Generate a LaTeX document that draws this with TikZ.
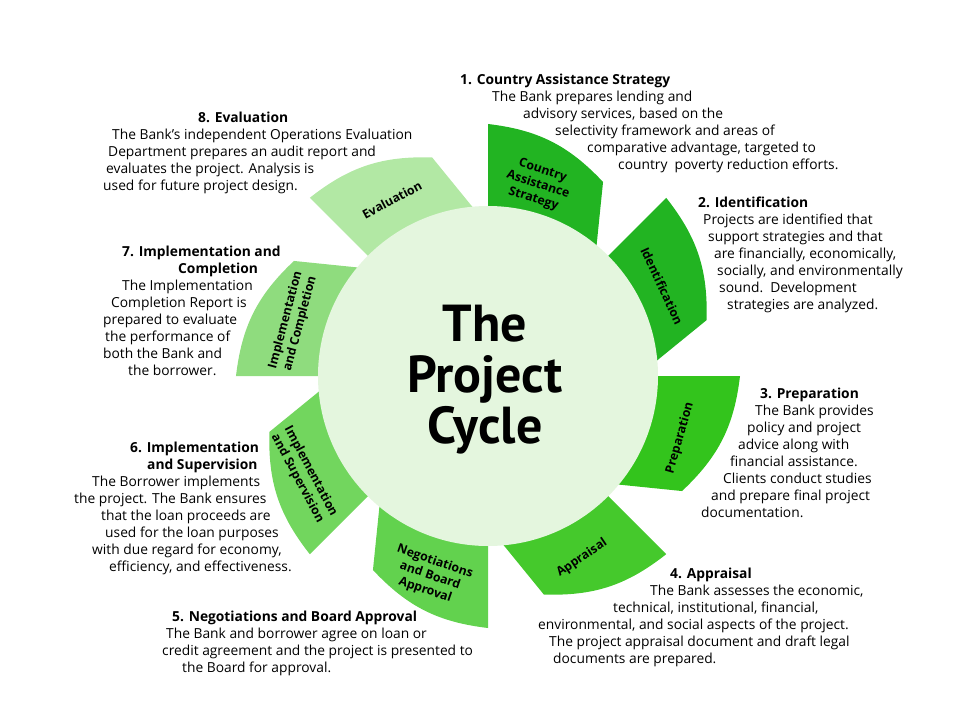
\documentclass[tikz,border=0pt]{standalone}
\usepackage{fontspec}
\setmainfont{Open Sans}
\newfontfamily\titlefont{PT Sans}
\usetikzlibrary{positioning}

\definecolor{circfill}{HTML}{E4F6DE}
\definecolor{bladeA}{HTML}{22B422}
\definecolor{bladeB}{HTML}{33C41C}
\definecolor{bladeC}{HTML}{45C92C}
\definecolor{bladeD}{HTML}{62D24E}
\definecolor{bladeE}{HTML}{72D65E}
\definecolor{bladeF}{HTML}{8FDC7E}
\definecolor{bladeG}{HTML}{B2E8A4}

\tikzset{
  desc/.style={align=left, anchor=north west, inner sep=0pt,
    font=\fontsize{13.8}{17}\selectfont},
  bladetext/.style={align=center, inner sep=0pt,
    font=\bfseries\fontsize{12.3}{15}\selectfont},
}

\begin{document}
\begin{tikzpicture}[x=1pt,y=1pt]
\useasboundingbox (-488,376) rectangle (472,-344);

% the eight blades, then the hub on top
\foreach \a/\col in {135/bladeG,90/bladeA,45/bladeA,0/bladeB,
                     -45/bladeC,-90/bladeD,-135/bladeE,180/bladeF}
  \fill[\col] (\a:150) -- (\a:252) to[bend left=20]
    ([shift={(\a+4:74)}]\a-45:170) -- (\a-45:150) -- cycle;
\fill[circfill] (0,0) circle (170);

\node[font=\titlefont\bfseries\fontsize{52}{51}\selectfont, align=center]
  (title) at (-3,-4) {The\\Project\\Cycle};

% blade labels
\node foreach \name/\px/\py/\rot/\txt in {
    cas/50/191/-18/{Country\\Assistance\\Strategy},
    ident/174/90/-65/{Identification},
    prep/192/-62/74/{Preparation},
    appr/94/-182/34/{Appraisal},
    nego/-58/-200/-19/{Negotiations\\and Board\\Approval},
    impsup/-184/-99/-62/{Implementation\\and Supervision},
    impcomp/-195/54/75/{Implementation\\and Completion},
    eval/-96/176/28/{Evaluation}}
  [bladetext, rotate=\rot] (\name) at (\px,\py) {\txt};

% descriptions
\node[desc] (casdesc) at (-28,302) {\textbf{1. Country Assistance Strategy}\\
  \hspace*{32pt}The Bank prepares lending and\\
  \hspace*{63pt}advisory services, based on the\\
  \hspace*{95pt}selectivity framework and areas of\\
  \hspace*{127pt}comparative advantage, targeted to\\
  \hspace*{158pt}country\ \ poverty reduction efforts.};
\node[desc] (identdesc) at (210,179) {\textbf{2. Identification}\\
  \hspace*{5pt}Projects are identified that\\
  \hspace*{10pt}support strategies and that\\
  \hspace*{16pt}are financially, economically,\\
  \hspace*{19pt}socially, and environmentally\\
  \hspace*{21pt}sound.\ \ Development\\
  \hspace*{29pt}strategies are analyzed.};
\node[desc] (prepdesc) at (213,-12) {\hspace*{59pt}\textbf{3. Preparation}\\
  \hspace*{54pt}The Bank provides\\
  \hspace*{46pt}policy and project\\
  \hspace*{37pt}advice along with\\
  \hspace*{29pt}financial assistance.\\
  \hspace*{22pt}Clients conduct studies\\
  \hspace*{10pt}and prepare final project\\
  documentation.};
\node[desc] (apprdesc) at (50,-192) {\hspace*{132pt}\textbf{4. Appraisal}\\
  \hspace*{112pt}The Bank assesses the economic,\\
  \hspace*{75pt}technical, institutional, financial,\\
  environmental, and social aspects of the project.\\
  \hspace*{11pt}The project appraisal document and draft legal\\
  \hspace*{15pt}documents are prepared.};
\node[desc] (negodesc) at (-326,-235) {\hspace*{10pt}\textbf{5. Negotiations and Board Approval}\\
  \hspace*{4pt}The Bank and borrower agree on loan or\\
  credit agreement and the project is presented to\\
  \hspace*{20pt}the Board for approval.};
\node[desc] (impsupdesc) at (-414,-66) {\hspace*{56pt}\textbf{6. Implementation}\\
  \hspace*{73pt}\textbf{and Supervision}\\
  \hspace*{18pt}The Borrower implements\\
  the project. The Bank ensures\\
  \hspace*{27pt}that the loan proceeds are\\
  \hspace*{31pt}used for the loan purposes\\
  \hspace*{18pt}with due regard for economy,\\
  \hspace*{35pt}efficiency, and effectiveness.};
\node[desc] (impcompdesc) at (-385,130) {\hspace*{19pt}\textbf{7. Implementation and}\\
  \hspace*{75pt}\textbf{Completion}\\
  \hspace*{19pt}The Implementation\\
  \hspace*{8pt}Completion Report is\\
  prepared to evaluate\\
  \hspace*{2pt}the performance of\\
  both the Bank and\\
  \hspace*{25pt}the borrower.};
\node[desc] (evaldesc) at (-385,264) {\hspace*{95pt}\textbf{8. Evaluation}\\
  \hspace*{9pt}The Bank’s independent Operations Evaluation\\
  \hspace*{5pt}Department prepares an audit report and\\
  \hspace*{3pt}evaluates the project. Analysis is\\
  used for future project design.};
\end{tikzpicture}
\end{document}
